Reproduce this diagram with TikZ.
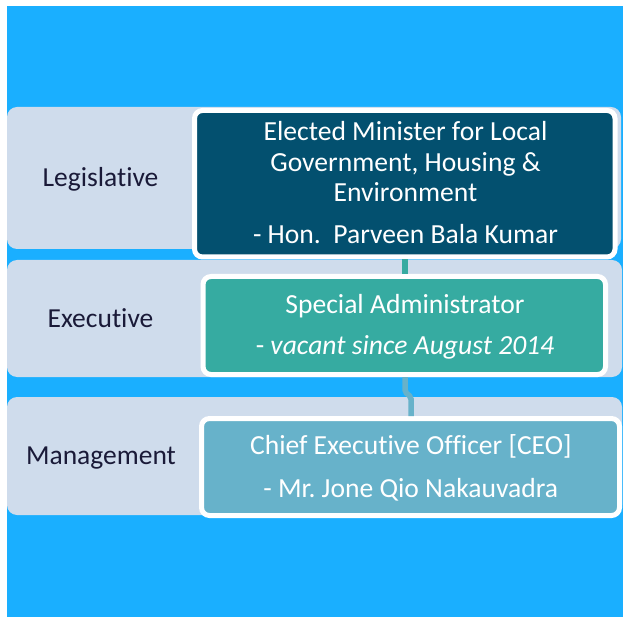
\documentclass[tikz,border=0pt]{standalone}
\usepackage{fontspec}
\setmainfont{Carlito}[Ligatures={NoCommon}]
\frenchspacing
\definecolor{bgblue}{HTML}{1AAFFF}
\definecolor{bandc}{HTML}{CFDCEC}
\definecolor{navybox}{HTML}{03506F}
\definecolor{tealbox}{HTML}{36ABA1}
\definecolor{skybox}{HTML}{67B2CA}
\definecolor{labeltext}{HTML}{1A1A38}
\begin{document}
\begin{tikzpicture}[x=1pt,y=-1pt,
  bandshape/.style={fill=bandc, rounded corners=10pt},
  box/.style={draw=white, line width=5pt, rounded corners=8pt, inner sep=0pt},
  boxtext/.style={text=white, inner sep=0pt, anchor=base, font=\fontsize{27.6}{30}\selectfont},
  leveltext/.style={text=labeltext, inner sep=0pt, anchor=base, font=\fontsize{27.5}{30}\selectfont},
  conn/.style={line width=5.5pt}]
\useasboundingbox (0,0) rectangle (623,617);
\fill[white] (0,0) rectangle (623,617);
\fill[bgblue] (7,6) rectangle (623,617);
% bands
\path[bandshape] (7,107) rectangle (621,249);
\path[bandshape] (7,260) rectangle (622,377);
\path[bandshape] (7,397) rectangle (622,515);
% level labels
\node[leveltext] (l1) at (100.5,187) {Legislative};
\node[leveltext] (l2) at (100.5,327) {Executive};
\node[leveltext] (l3) at (101,464) {Management};
% boxes
\node[box, fill=navybox, minimum width=420.5pt, minimum height=146.5pt] (b1) at (404.75,183.75) {};
\node[box, fill=tealbox, minimum width=402.5pt, minimum height=98pt] (b2) at (404.25,325.5) {};
\node[box, fill=skybox, minimum width=418pt, minimum height=97pt] (b3) at (410.5,467) {};
% box texts
\node[boxtext] (t1a) at (405.5,141) {Elected Minister for Local};
\node[boxtext] (t1b) at (405.5,171.5) {Government, Housing \&};
\node[boxtext] (t1c) at (405.5,202) {Environment};
\node[boxtext] (t1d) at (405.5,244) {- Hon.\ \ Parveen Bala Kumar};
\node[boxtext] (t2a) at (405,313) {Special Administrator};
\node[boxtext] (t2b) at (405,354) {- \textit{vacant since August 2014}};
\node[boxtext] (t3a) at (410.8,454) {Chief Executive Officer [CEO]};
\node[boxtext] (t3b) at (410.8,497) {- Mr. Jone Qio Nakauvadra};
% connectors
\coordinate (c1) at (405,0);
\draw[conn, tealbox] (b1.south -| c1) -- (b2.north -| c1);
\coordinate (j1) at (405,392);
\coordinate (j2) at (411,397);
\draw[conn, skybox, rounded corners=2pt] (b2.south -| j1) -- (j1) -- (j2) -- (b3.north -| j2);
\end{tikzpicture}
\end{document}
